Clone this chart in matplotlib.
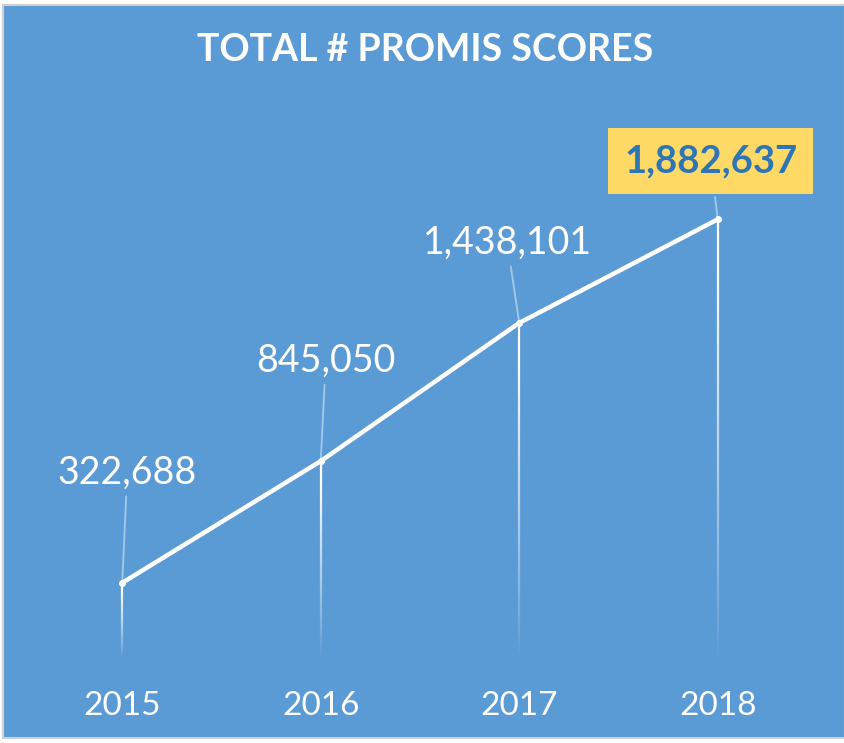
import matplotlib

matplotlib.use("Agg")
import matplotlib.pyplot as plt
import numpy as np
from matplotlib.collections import LineCollection
from matplotlib.patches import Rectangle

YEARS = ["2015", "2016", "2017", "2018"]
SCORES = [322688, 845050, 1438101, 1882637]
LABELS = ["322,688", "845,050", "1,438,101", "1,882,637"]
TITLE = "TOTAL # PROMIS SCORES"

BLUE = "#5B9BD5"
GOLD = "#FFD966"
DARK_BLUE = "#2E75B6"
W, H = 845, 743

plt.rcParams["font.family"] = ["Lato", "DejaVu Sans"]

fig = plt.figure(figsize=(W / 100, H / 100), dpi=100, facecolor="white")

# chart area background with thin grey frame
fig.patches.append(Rectangle((3 / W, 1 - 738 / H), (W - 3) / W, (738 - 5) / H,
                             transform=fig.transFigure, facecolor=BLUE,
                             edgecolor="#d0d0d0", lw=1.5, zorder=-5))

# axes: categories from x=23..817 px, zero at y=658 px
ax = fig.add_axes([23 / W, 1 - 658 / H, (817 - 23) / W, (658 - 192) / H])
ax.set_facecolor("none")
for s in ax.spines.values():
    s.set_visible(False)
x = np.arange(len(YEARS))
ax.set_xlim(-0.5, len(YEARS) - 0.5)
ax.set_ylim(0, 2.0e6)
ax.set_yticks([])
ax.set_xticks(x)
ax.set_xticklabels(YEARS, color="white", fontsize=24)
ax.tick_params(axis="x", length=0, pad=24)

# drop lines that fade toward the axis
segs, cols = [], []
n = 80
for xi, v in zip(x, SCORES):
    ys = np.linspace(0, v, n + 1)
    for k in range(n):
        segs.append([(xi, ys[k]), (xi, ys[k + 1])])
        a = (k + 0.5) / n
        cols.append((1, 1, 1, min(1.0, a ** 0.9 * 1.1)))
ax.add_collection(LineCollection(segs, colors=cols, linewidths=1.6, zorder=2))

ax.plot(x, SCORES, color="white", lw=3.2, zorder=3, solid_capstyle="round",
        marker="o", ms=4, mfc="white", mec="white")

# data labels with leader lines (offsets in pixels)
offsets = [(5, 110), (5, 100), (-12, 80), (-7, 58)]
for i, (v, lab, off) in enumerate(zip(SCORES, LABELS, offsets)):
    last = i == len(SCORES) - 1
    kw = dict(fontsize=27, color="white")
    if last:
        kw = dict(fontsize=27.5, color=DARK_BLUE, fontweight="bold",
                  bbox=dict(boxstyle="square,pad=0.42", fc=GOLD, ec="none"))
    ax.annotate(lab, xy=(i, v), xytext=off, textcoords="offset pixels",
                ha="center", va="center", zorder=4,
                arrowprops=dict(arrowstyle="-", color=(1, 1, 1, 0.45), lw=1.3,
                                shrinkA=2, shrinkB=0),
                **kw)

fig.text(425 / W, 1 - 50 / H, TITLE, ha="center", va="center",
         color="white", fontsize=27, fontweight="bold")

fig.savefig("out.png", dpi=100, facecolor="white")
